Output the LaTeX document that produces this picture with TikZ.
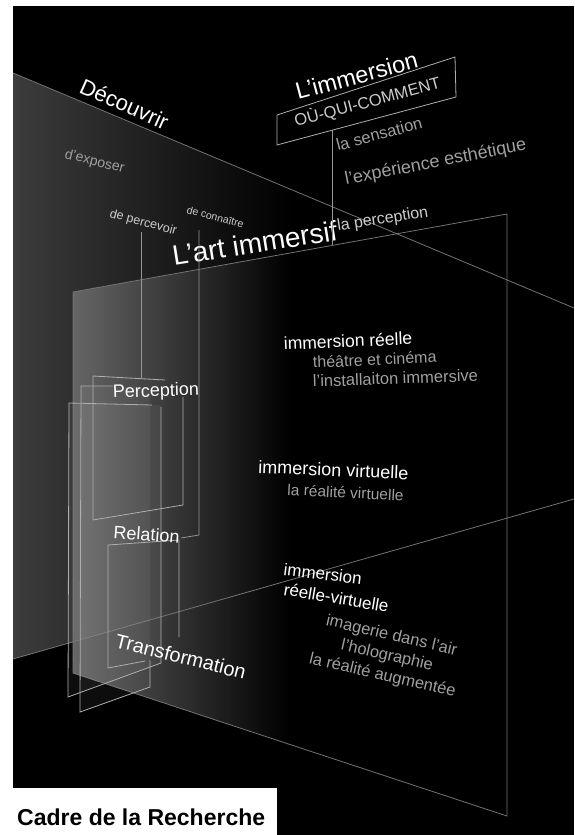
\documentclass[tikz,border=0pt]{standalone}
\usepackage{fontspec}
\setmainfont{Liberation Sans}
\definecolor{subgray}{RGB}{160,160,160}
\definecolor{lightsub}{RGB}{205,205,205}
\definecolor{linegray}{RGB}{115,115,115}
\definecolor{framegray}{RGB}{175,175,175}
\definecolor{planeleft}{RGB}{60,60,60}
\definecolor{frontleft}{RGB}{112,112,112}
\tikzset{
  lbl/.style={inner sep=0pt, anchor=base west, text=white},
  sublbl/.style={inner sep=0pt, anchor=base west, text=subgray},
  planeedge/.style={draw=linegray, line width=0.8pt},
  frameedge/.style={draw=framegray, line width=0.8pt},
  link/.style={draw=framegray!85!black, line width=0.8pt},
}
\newcommand{\fs}[1]{\fontsize{#1}{#1}\selectfont}
\begin{document}
\begin{tikzpicture}[x=1pt,y=-1pt]
\useasboundingbox (0,0) rectangle (574,835);
\fill[white] (0,0) rectangle (574,835);
\fill[black] (13,6) rectangle (574,835);

% receding plane
\coordinate (rp1) at (13,73);
\coordinate (rp2) at (574,308);
\coordinate (rp3) at (574,499);
\coordinate (rp4) at (13,659);
\path[left color=planeleft, right color=black, middle color=black]
  (rp1) -- (rp2) -- (rp3) -- (rp4) -- cycle;

% front plane
\coordinate (fp1) at (73,292);
\coordinate (fp2) at (507,214);
\coordinate (fp3) at (507,816);
\coordinate (fp4) at (73,673);
\path[left color=frontleft, right color=black, middle color=black, fill opacity=0.85]
  (fp1) -- (fp2) -- (fp3) -- (fp4) -- cycle;
\draw[planeedge] (fp4) -- (fp1) -- (fp2) -- (fp3) -- (fp4);
\draw[planeedge] (rp1) -- (rp2);
\draw[planeedge] (rp4) -- (rp3);

% stacked frames
\fill[white, fill opacity=0.05] (68,403) -- (161,405) -- (161,663) -- (68,697) -- cycle;
\fill[white, fill opacity=0.05] (81,386) -- (150,388) -- (150,687) -- (80,712) -- cycle;
\draw[frameedge] (152,405) -- (69,403) -- (68,697) -- (161,663) -- (161,407);
\draw[frameedge] (113,386) -- (81,386) -- (80,712) -- (150,687) -- (150,660);
\draw[frameedge] (165,380) -- (93,376) -- (93,520) -- (183,505) -- (183,397);
\draw[frameedge] (145,661) -- (108,668) -- (108,545) -- (179,540) -- (179,637);

% box around the questions
\coordinate (bx1) at (277,115);
\coordinate (bx2) at (455,57);
\coordinate (bx3) at (456,97);
\coordinate (bx4) at (277,145);
\draw[frameedge] (bx1) -- (bx2) -- (bx3) -- (bx4) -- cycle;

% titles
\node[lbl, rotate=-24] (decouvrir) at (78,92) {\fs{22}Découvrir};
\node[lbl, rotate=15] (limmersion) at (298,100) {\fs{23.5}L'immersion};
\node[lbl, rotate=15, text=lightsub] (oqc) at (296,127) {\fs{16.5}OÙ-QUI-COMMENT};
\node[lbl, rotate=9] (art) at (174,266) {\fs{28}L'art immersif};

% verbs
\node[sublbl, rotate=-14] (exposer) at (64,158) {\fs{14}d'exposer};
\node[sublbl, rotate=-15, text=lightsub] (percevoir) at (109,217) {\fs{12.5}de percevoir};
\node[sublbl, rotate=-15, text=lightsub] (connaitre) at (186,213) {\fs{10.5}de connaître};

% aspects of immersion
\node[sublbl, rotate=15] (sensation) at (338,151) {\fs{16.5}la sensation};
\node[sublbl, rotate=11] (esthetique) at (346,185) {\fs{18}l'expérience esthétique};
\node[sublbl, rotate=9, text=lightsub] (laperception) at (338,231) {\fs{16}la perception};

% kinds of immersion
\node[lbl, rotate=2.5] (reelle) at (284,350) {\fs{17.5}immersion réelle};
\node[sublbl, rotate=2.5] (theatre) at (313,368) {\fs{16}théâtre et cinéma};
\node[sublbl, rotate=2] (installation) at (313,387) {\fs{16.5}l'installaiton immersive};
\node[lbl, rotate=-2.5] (virtuelle) at (258,473) {\fs{18}immersion virtuelle};
\node[sublbl, rotate=-3] (rv) at (287,495) {\fs{15.5}la réalité virtuelle};
\node[lbl, rotate=-7] (immersion3) at (283,575) {\fs{17}immersion};
\node[lbl, rotate=-9.5] (reellevirt) at (283,595) {\fs{17}réelle-virtuelle};
\node[inner sep=0pt, text=subgray, rotate=-13, align=center,
      font=\fontsize{16.5}{20.5}\selectfont] (mixte) at (387,656)
  {imagerie dans l'air\\l'holographie\\la réalité augmentée};

% stages
\node[lbl, rotate=2] (perception) at (113,398) {\fs{18}Perception};
\node[lbl, rotate=-4.5] (relation) at (113,538) {\fs{18}Relation};
\node[lbl, rotate=-14] (transformation) at (114,647) {\fs{20}Transformation};

% connectors
\coordinate (c1a) at (141,232);
\coordinate (c1b) at (141,378);
\draw[link] (c1a) -- (c1b);
\coordinate (c2a) at (199,230);
\coordinate (c2b) at (199,535);
\coordinate (c2c) at (181,538);
\draw[link] (c2a) -- (c2b) -- (c2c);
\coordinate (c3a) at (332,130);
\coordinate (c3b) at (332,245);
\draw[link] (c3a) -- (c3b);

% caption
\fill[white] (13,788) rectangle (277,835);
\node[inner sep=0pt, anchor=base west, text=black] (cadre) at (17,825)
  {\fs{23}\bfseries Cadre de la Recherche};
\end{tikzpicture}
\end{document}
